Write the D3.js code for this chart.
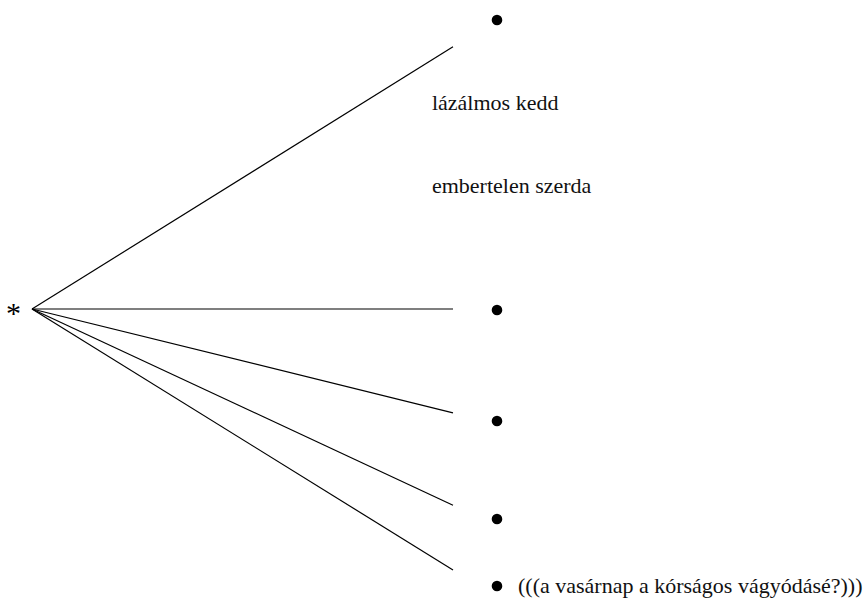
<!DOCTYPE html>
<html>
<head>
<meta charset="utf-8">
<script src="https://cdn.jsdelivr.net/npm/d3@7"></script>
<style>
  body { margin: 0; background: #fff; }
</style>
</head>
<body>
<div id="container"></div>
<script>
// tree data, vertical positions in percent of the page height
const rootLabel = '*';
const rootY = 51.5;
const branchEnds = [7.8, 51.5, 68.8, 84.2, 95.0];
const bulletYs = [3.33, 51.67, 70.17, 86.5, 97.67];
const bulletLabels = ['', '', '', '', '(((a vasárnap a kórságos vágyódásé?)))'];
const looseLabels = ['lázálmos kedd', 'embertelen szerda'];
const looseLabelYs = [18.33, 32.17];

const width = 867;
const height = 601;
const serif = '"Liberation Serif", "DejaVu Serif", serif';

const svg = d3.select('#container').append('svg')
    .attr('width', width)
    .attr('height', height)
    .style('font-family', serif);

// x: depth in the tree (0 = root, 1 = end of the branch)
let x = d3.scaleLinear().domain([0, 1]).range([32, 453]);
let y = d3.scaleLinear().domain([0, 100]).range([0, 600]);

// branches
svg.append('g')
    .selectAll('line')
    .data(branchEnds)
    .enter().append('line')
        .attr('x1', x(0))
        .attr('y1', y(rootY))
        .attr('x2', x(1))
        .attr('y2', d => y(d))
        .attr('stroke', '#000')
        .attr('stroke-width', 1.2);

// root marker
svg.append('text')
    .attr('x', x(0) - 11)
    .attr('y', y(rootY) + 14)
    .attr('text-anchor', 'end')
    .style('font-size', '30px')
    .text(rootLabel);

// leaves: bullet + optional label
let leaf = svg.append('g')
    .selectAll('g')
    .data(bulletYs)
    .enter().append('g')
        .attr('transform', d => `translate(${x(1.1045)},${y(d)})`);

leaf.append('circle')
    .attr('r', 5.3)
    .attr('fill', '#000');

leaf.append('text')
    .attr('x', 21)
    .attr('y', 6.5)
    .style('font-size', '22px')
    .attr('fill', '#111')
    .text((d, i) => bulletLabels[i]);

// labels without a branch
svg.append('g')
    .selectAll('text')
    .data(looseLabels)
    .enter().append('text')
        .attr('x', x(0.95))
        .attr('y', (d, i) => y(looseLabelYs[i]))
        .style('font-size', '22px')
        .attr('fill', '#111')
        .text(d => d);
</script>
</body>
</html>
